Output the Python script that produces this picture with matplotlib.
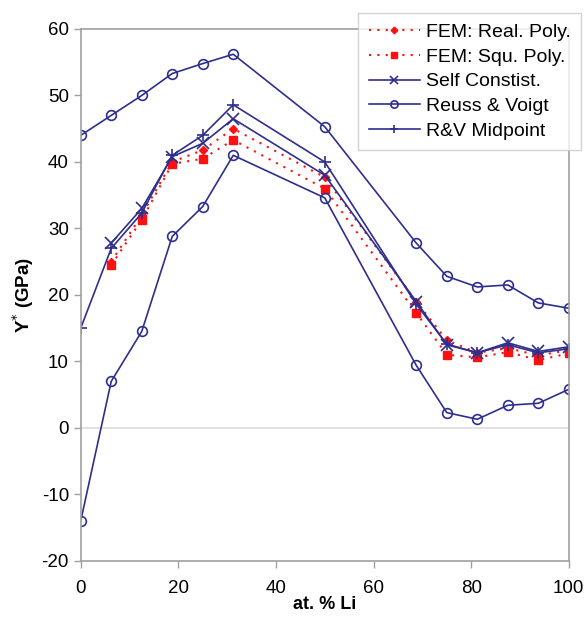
import matplotlib.pyplot as plt

plt.rcParams["font.family"] = ["Liberation Sans", "DejaVu Sans"]
plt.rcParams["axes.unicode_minus"] = False

li_pct = [0, 6.25, 12.5, 18.75, 25, 31.25, 50, 68.75, 75, 81.25, 87.5, 93.75, 100]
li_pct_fem = li_pct[1:]

fem_real = [25.0, 32.0, 40.0, 41.8, 45.0, 37.7, 19.0, 13.2, 11.3, 12.0, 10.9, 11.7]
fem_squ = [24.5, 31.3, 39.7, 40.5, 43.3, 36.0, 17.3, 11.0, 10.6, 11.4, 10.2, 11.2]
self_consist = [27.8, 33.0, 40.8, 42.8, 46.5, 38.0, 19.0, 12.5, 11.3, 12.8, 11.5, 12.2]
voigt = [44.0, 47.0, 50.0, 53.3, 54.8, 56.2, 45.3, 27.8, 22.8, 21.2, 21.5, 18.8, 18.0]
reuss = [-14.0, 7.0, 14.5, 28.8, 33.3, 41.0, 34.6, 9.4, 2.3, 1.3, 3.4, 3.7, 5.8]
rv_mid = [15.0, 27.0, 32.3, 41.0, 44.0, 48.6, 40.0, 18.6, 12.6, 11.3, 12.5, 11.3, 11.9]

navy = "#2e2e8f"
red = "#ff1010"
grey = "#a0a0a0"

fig = plt.figure(figsize=(5.87, 6.17), dpi=100)
ax = fig.add_axes([0.1375, 0.091, 0.8315, 0.862])

ax.axhline(0, color="#dcdcdc", linewidth=1.2, zorder=0)

ax.plot(li_pct_fem, fem_real, linestyle=(0, (1, 3)), color=red, linewidth=1.5,
        marker="D", markersize=4.5, label="FEM: Real. Poly.")
ax.plot(li_pct_fem, fem_squ, linestyle=(0, (1, 3)), color=red, linewidth=1.5,
        marker="s", markersize=6, label="FEM: Squ. Poly.")
ax.plot(li_pct_fem, self_consist, color=navy, linewidth=1.2,
        marker="x", markersize=8, markeredgewidth=1.2, label="Self Constist.")
ax.plot(li_pct, voigt, color=navy, linewidth=1.2, marker="o", markersize=7,
        markerfacecolor="none", markeredgewidth=1.2, label="Reuss & Voigt")
ax.plot(li_pct, reuss, color=navy, linewidth=1.2, marker="o", markersize=7,
        markerfacecolor="none", markeredgewidth=1.2)
ax.plot(li_pct, rv_mid, color=navy, linewidth=1.2, marker="+", markersize=8,
        markeredgewidth=1.2, label="R&V Midpoint")

ax.set_xlim(0, 100)
ax.set_ylim(-20, 60)
ax.set_xticks(range(0, 101, 20))
ax.set_yticks(range(-20, 61, 10))
for s in ax.spines.values():
    s.set_color(grey)
    s.set_linewidth(1.2)
ax.tick_params(colors=grey, labelcolor="black", labelsize=13.5, length=5, width=1)
ax.tick_params(axis="x", pad=9)

ax.set_xlabel("at. % Li", fontsize=13, fontweight="bold", labelpad=-1)
ax.set_ylabel(r"Y$^{*}$ (GPa)", fontsize=13.5, fontweight="bold", labelpad=4)

leg = ax.legend(loc="upper right", bbox_to_anchor=(0.99, 0.979),
                bbox_transform=fig.transFigure, fontsize=14, frameon=True,
                fancybox=False, edgecolor="#c8c8c8", handlelength=2.6,
                handletextpad=0.3, borderpad=0.55, labelspacing=0.36,
                borderaxespad=0, markerscale=0.75)
leg.get_frame().set_linewidth(1.0)

fig.savefig("out.png", dpi=100)
